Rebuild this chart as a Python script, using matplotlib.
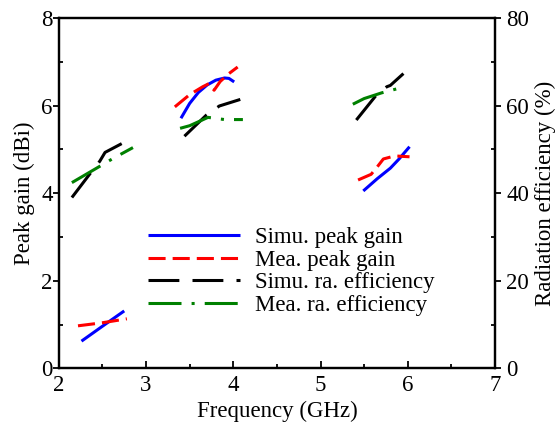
import matplotlib
matplotlib.use("Agg")
import matplotlib.pyplot as plt
from matplotlib.ticker import MultipleLocator

plt.rcParams['font.family'] = ['Liberation Serif', 'DejaVu Serif']

# Peak gain (dBi), three operating bands
simu_gain_f = [[2.26, 2.50, 2.75],
               [3.40, 3.50, 3.60, 3.70, 3.80, 3.90, 3.95, 4.01],
               [5.49, 5.65, 5.80, 5.90, 6.02]]
simu_gain = [[0.62, 0.96, 1.31],
             [5.71, 6.05, 6.30, 6.47, 6.58, 6.63, 6.62, 6.54],
             [4.05, 4.33, 4.57, 4.78, 5.06]]
mea_gain_f = [[2.22, 2.50, 2.78],
              [3.33, 3.50, 3.65, 3.72, 3.78, 3.85, 3.95, 4.05],
              [5.43, 5.58, 5.65, 5.72, 5.85, 6.02]]
mea_gain = [[0.97, 1.04, 1.13],
            [5.97, 6.25, 6.43, 6.50, 6.35, 6.55, 6.73, 6.88],
            [4.30, 4.43, 4.60, 4.78, 4.85, 4.83]]

# Radiation efficiency (%)
simu_eff_f = [[2.15, 2.36, 2.47, 2.53, 2.73],
              [3.44, 3.69, 3.84, 4.08],
              [5.41, 5.64, 5.76, 5.80, 5.95]]
simu_eff = [[39.0, 44.5, 47.3, 49.3, 51.4],
            [53.0, 57.8, 59.9, 61.4],
            [56.7, 62.4, 64.3, 64.6, 67.3]]
mea_eff_f = [[2.15, 2.45, 2.62, 2.85],
             [3.39, 3.50, 3.60, 3.71, 3.90, 4.11],
             [5.37, 5.50, 5.70, 5.89]]
mea_eff = [[42.4, 45.9, 47.9, 50.4],
           [54.8, 55.4, 56.3, 57.3, 56.8, 56.8],
           [60.3, 61.6, 62.9, 63.9]]

labels = ["Simu. peak gain", "Mea. peak gain",
          "Simu. ra. efficiency", "Mea. ra. efficiency"]

fs = 16.5
lw = 2.2
fig = plt.figure(figsize=(5.6, 4.28), dpi=100)
ax = fig.add_axes([0.105, 0.1395, 0.779, 0.8185])
ax2 = ax.twinx()

handles = []
for f, g in zip(simu_gain_f, simu_gain):
    h, = ax.plot(f, g, color='#0000ff', lw=lw, solid_capstyle='butt')
handles.append(h)
for f, g in zip(mea_gain_f, mea_gain):
    h, = ax.plot(f, g, color='#ff0000', lw=lw, linestyle=(0, (5.6, 2.3)))
handles.append(h)
for f, e in zip(simu_eff_f, simu_eff):
    h, = ax2.plot(f, e, color='black', lw=lw, linestyle=(0, (10.1, 4.3)))
handles.append(h)
for f, e in zip(mea_eff_f, mea_eff):
    h, = ax2.plot(f, e, color='#008000', lw=lw, linestyle=(0, (10.8, 3.3, 1.0, 3.3)))
handles.append(h)

ax.set_xlim(2, 7)
ax.set_ylim(0, 8)
ax2.set_ylim(0, 80)

ax.xaxis.set_major_locator(MultipleLocator(1))
ax.xaxis.set_minor_locator(MultipleLocator(0.5))
ax.yaxis.set_major_locator(MultipleLocator(2))
ax.yaxis.set_minor_locator(MultipleLocator(1))
ax2.yaxis.set_major_locator(MultipleLocator(20))
ax2.yaxis.set_minor_locator(MultipleLocator(10))

for a in (ax, ax2):
    for s in a.spines.values():
        s.set_linewidth(1.6)

ax.tick_params(axis='x', which='major', direction='in', length=5, width=1.3,
               labelsize=fs, pad=5)
ax.tick_params(axis='x', which='minor', direction='in', length=3, width=1.3)
ax.tick_params(axis='y', which='major', direction='out', length=4, width=1.3,
               labelsize=fs, pad=0.5)
ax.tick_params(axis='y', which='minor', direction='in', length=3, width=1.3)
ax2.tick_params(axis='y', which='major', direction='out', length=4, width=1.3,
                labelsize=fs, pad=4)
ax2.tick_params(axis='y', which='minor', direction='in', length=3, width=1.3)

ax.set_xlabel("Frequency (GHz)", fontsize=fs, labelpad=3)
ax.set_ylabel("Peak gain (dBi)", fontsize=fs, labelpad=4)
ax2.set_ylabel("Radiation efficiency (%)", fontsize=fs, rotation=90, labelpad=4)

ax2.legend(handles, labels, loc='upper left', bbox_to_anchor=(148 / 560, 1 - 227 / 428),
           bbox_transform=fig.transFigure, frameon=False, fontsize=fs,
           handlelength=4.0, handletextpad=0.65, labelspacing=0.07,
           borderpad=0, borderaxespad=0)

fig.savefig("out.png", dpi=100)
